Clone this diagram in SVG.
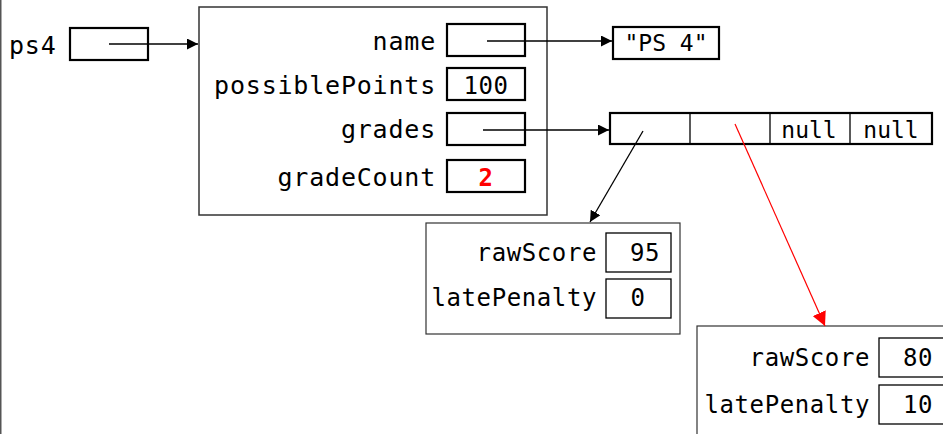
<svg xmlns="http://www.w3.org/2000/svg" width="943" height="434" viewBox="0 0 943 434">
<defs>
<marker id="ab" viewBox="0 0 10 10" refX="10" refY="5" markerWidth="11" markerHeight="11" markerUnits="userSpaceOnUse" orient="auto"><path d="M0,0 L10,5 L0,10 Z" fill="#000"/></marker>
<marker id="ar" viewBox="0 0 10 10" refX="10" refY="5" markerWidth="14" markerHeight="14" markerUnits="userSpaceOnUse" orient="auto"><path d="M0,0 L10,5 L0,10 Z" fill="#f00"/></marker>
</defs>
<style>
text{font-family:"DejaVu Sans Mono","Liberation Mono",monospace;font-size:25px;fill:#000;letter-spacing:0.8px}
.lbl{text-anchor:end}
.val{text-anchor:middle}
.obj{fill:#fff;stroke:#333;stroke-width:1.5}
.cell{fill:#fff;stroke:#000;stroke-width:2.2}
.thin{fill:#fff;stroke:#000;stroke-width:1.3}
.md{font-size:24px;letter-spacing:0.6px}
.sm{font-size:23px;letter-spacing:0px}
.con{stroke:#000;stroke-width:1.3;fill:none}
</style>
<line x1="0.75" y1="0" x2="0.75" y2="434" stroke="#555" stroke-width="1.5"/>
<g id="ps4">
<text x="9" y="54">ps4</text>
<rect class="cell" x="70" y="28" width="78" height="32"/>
</g>
<g id="ps4obj">
<rect class="obj" x="199" y="7" width="348" height="208"/>
<text class="lbl" x="436" y="50">name</text>
<rect class="cell" x="447" y="24" width="78" height="32"/>
<text class="lbl" x="436" y="94">possiblePoints</text>
<rect class="cell" x="447" y="68" width="78" height="32"/>
<text class="val md" x="486" y="94">100</text>
<text class="lbl" x="436" y="138">grades</text>
<rect class="cell" x="447" y="113" width="78" height="32"/>
<text class="lbl" x="436" y="186">gradeCount</text>
<rect class="cell" x="447" y="160" width="78" height="32"/>
<text class="val md" x="486" y="186" style="fill:#f00;font-weight:bold">2</text>
</g>
<g id="str">
<rect class="cell" x="613" y="27" width="106" height="32"/>
<text class="val sm" x="666" y="51">"PS 4"</text>
</g>
<g id="arr">
<rect class="cell" x="610" y="113" width="322" height="31"/>
<line x1="690" y1="113" x2="690" y2="144" stroke="#000" stroke-width="1.3"/>
<line x1="770" y1="113" x2="770" y2="144" stroke="#000" stroke-width="1.3"/>
<line x1="850" y1="113" x2="850" y2="144" stroke="#000" stroke-width="1.3"/>
<text class="val sm" x="809" y="138">null</text>
<text class="val sm" x="891" y="138">null</text>
</g>
<g id="grade1">
<rect class="obj" x="426" y="223" width="254" height="111" style="stroke-width:1.2"/>
<text class="lbl md" x="597" y="261">rawScore</text>
<rect class="thin" x="606" y="233" width="65" height="39"/>
<text class="val md" x="645" y="261">95</text>
<text class="lbl md" x="597" y="306">latePenalty</text>
<rect class="thin" x="606" y="279" width="65" height="39"/>
<text class="val md" x="638" y="306">0</text>
</g>
<g id="grade2">
<rect class="obj" x="697" y="326" width="260" height="120" style="stroke-width:1.2"/>
<text class="lbl md" x="870" y="366">rawScore</text>
<rect class="thin" x="879" y="338" width="70" height="39"/>
<text class="val md" x="918" y="366">80</text>
<text class="lbl md" x="870" y="413">latePenalty</text>
<rect class="thin" x="879" y="385" width="70" height="39"/>
<text class="val md" x="918" y="413">10</text>
</g>
<g id="connectors">
<line class="con" x1="109" y1="44" x2="198" y2="44" marker-end="url(#ab)"/>
<line class="con" x1="487" y1="41" x2="612" y2="41" marker-end="url(#ab)"/>
<line class="con" x1="483" y1="130" x2="609" y2="130" marker-end="url(#ab)"/>
<line class="con" x1="643" y1="131" x2="590" y2="222" marker-end="url(#ab)"/>
<line x1="735" y1="124" x2="825" y2="326" stroke="#f00" stroke-width="1.2" marker-end="url(#ar)"/>
</g>
</svg>
